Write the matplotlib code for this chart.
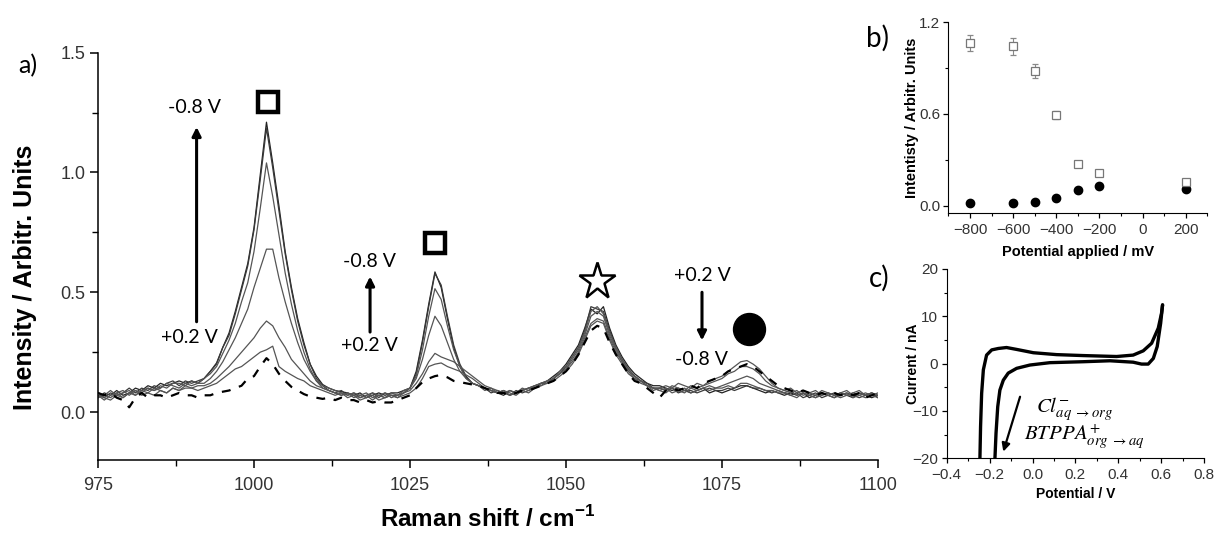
import matplotlib
matplotlib.use('Agg')
import matplotlib.pyplot as plt
from matplotlib.ticker import MultipleLocator
import numpy as np

plt.rcParams['font.family'] = ['Liberation Sans', 'DejaVu Sans']
plt.rcParams['mathtext.fontset'] = 'custom'
plt.rcParams['mathtext.rm'] = 'Liberation Sans'
plt.rcParams['mathtext.bf'] = 'Liberation Sans:bold'

# raman shift axis, 1 cm-1 step
shift = np.arange(975, 1101, 1)

# spectra from -0.8 V to +0.2 V
spec_m08 = [0.06, 0.08, 0.07, 0.09, 0.07, 0.08, 0.10, 0.09, 0.11, 0.10,
            0.12, 0.11, 0.12, 0.13, 0.12, 0.13, 0.12, 0.14, 0.17, 0.205,
            0.27, 0.33, 0.42, 0.52, 0.62, 0.77, 0.99, 1.21, 1.04, 0.86,
            0.67, 0.52, 0.39, 0.29, 0.20, 0.15, 0.115, 0.10, 0.09, 0.085,
            0.08, 0.07, 0.08, 0.06, 0.07, 0.08, 0.07, 0.08, 0.08, 0.09,
            0.10, 0.17, 0.30, 0.45, 0.585, 0.52, 0.39, 0.27, 0.19, 0.145,
            0.12, 0.11, 0.10, 0.09, 0.08, 0.07, 0.09, 0.08, 0.09, 0.10,
            0.11, 0.12, 0.13, 0.15, 0.17, 0.20, 0.24, 0.28, 0.35, 0.43,
            0.41, 0.44, 0.35, 0.28, 0.23, 0.19, 0.16, 0.14, 0.12, 0.11,
            0.11, 0.10, 0.09, 0.10, 0.09, 0.08, 0.09, 0.10, 0.08, 0.09,
            0.08, 0.09, 0.10, 0.11, 0.11, 0.10, 0.09, 0.08, 0.09, 0.08,
            0.07, 0.08, 0.07, 0.08, 0.06, 0.07, 0.08, 0.07, 0.06, 0.08,
            0.07, 0.06, 0.08, 0.07, 0.06, 0.07]
spec_m06 = [0.07, 0.06, 0.08, 0.07, 0.08, 0.10, 0.08, 0.10, 0.09, 0.11,
            0.10, 0.12, 0.13, 0.11, 0.13, 0.12, 0.13, 0.14, 0.17, 0.20,
            0.27, 0.32, 0.41, 0.51, 0.61, 0.76, 0.97, 1.185, 1.02, 0.84,
            0.66, 0.51, 0.38, 0.28, 0.20, 0.14, 0.11, 0.09, 0.08, 0.09,
            0.07, 0.08, 0.06, 0.07, 0.08, 0.06, 0.08, 0.07, 0.07, 0.08,
            0.10, 0.16, 0.29, 0.44, 0.578, 0.53, 0.40, 0.28, 0.20, 0.15,
            0.12, 0.11, 0.10, 0.08, 0.09, 0.08, 0.07, 0.09, 0.08, 0.09,
            0.10, 0.12, 0.12, 0.14, 0.16, 0.19, 0.23, 0.27, 0.34, 0.44,
            0.43, 0.42, 0.34, 0.27, 0.22, 0.18, 0.15, 0.13, 0.12, 0.10,
            0.10, 0.09, 0.10, 0.08, 0.09, 0.09, 0.08, 0.09, 0.10, 0.09,
            0.09, 0.10, 0.09, 0.10, 0.11, 0.10, 0.10, 0.09, 0.08, 0.09,
            0.08, 0.07, 0.08, 0.06, 0.07, 0.08, 0.06, 0.07, 0.08, 0.07,
            0.08, 0.07, 0.06, 0.07, 0.08, 0.06]
spec_m05 = [0.08, 0.07, 0.06, 0.08, 0.09, 0.07, 0.09, 0.08, 0.10, 0.09,
            0.11, 0.10, 0.12, 0.12, 0.11, 0.13, 0.12, 0.14, 0.16, 0.19,
            0.245, 0.30, 0.37, 0.46, 0.54, 0.67, 0.85, 1.04, 0.90, 0.74,
            0.58, 0.45, 0.34, 0.25, 0.18, 0.13, 0.10, 0.09, 0.08, 0.07,
            0.08, 0.06, 0.07, 0.08, 0.06, 0.07, 0.06, 0.08, 0.07, 0.09,
            0.10, 0.15, 0.26, 0.40, 0.515, 0.47, 0.36, 0.26, 0.19, 0.14,
            0.12, 0.11, 0.09, 0.10, 0.08, 0.09, 0.08, 0.07, 0.09, 0.10,
            0.11, 0.11, 0.13, 0.14, 0.17, 0.19, 0.23, 0.27, 0.33, 0.42,
            0.44, 0.41, 0.33, 0.27, 0.22, 0.18, 0.15, 0.13, 0.11, 0.10,
            0.09, 0.10, 0.08, 0.09, 0.10, 0.08, 0.09, 0.10, 0.09, 0.10,
            0.10, 0.11, 0.10, 0.12, 0.12, 0.11, 0.10, 0.09, 0.09, 0.08,
            0.08, 0.07, 0.06, 0.08, 0.07, 0.06, 0.07, 0.08, 0.07, 0.06,
            0.07, 0.08, 0.07, 0.06, 0.07, 0.08]
spec_m04 = [0.06, 0.07, 0.09, 0.07, 0.08, 0.09, 0.07, 0.09, 0.10, 0.09,
            0.10, 0.12, 0.11, 0.10, 0.12, 0.11, 0.12, 0.12, 0.14, 0.17,
            0.21, 0.26, 0.31, 0.37, 0.43, 0.52, 0.60, 0.68, 0.68, 0.56,
            0.46, 0.37, 0.29, 0.22, 0.17, 0.13, 0.11, 0.10, 0.09, 0.08,
            0.07, 0.08, 0.07, 0.06, 0.08, 0.07, 0.08, 0.06, 0.07, 0.08,
            0.10, 0.14, 0.22, 0.32, 0.40, 0.36, 0.29, 0.22, 0.17, 0.14,
            0.12, 0.11, 0.10, 0.09, 0.08, 0.09, 0.07, 0.08, 0.09, 0.10,
            0.10, 0.12, 0.13, 0.14, 0.16, 0.18, 0.22, 0.26, 0.32, 0.40,
            0.42, 0.40, 0.32, 0.26, 0.21, 0.17, 0.15, 0.13, 0.11, 0.10,
            0.09, 0.08, 0.10, 0.09, 0.08, 0.10, 0.09, 0.10, 0.11, 0.10,
            0.11, 0.12, 0.13, 0.14, 0.15, 0.14, 0.12, 0.11, 0.10, 0.09,
            0.08, 0.09, 0.07, 0.08, 0.07, 0.06, 0.08, 0.07, 0.06, 0.07,
            0.08, 0.06, 0.07, 0.08, 0.07, 0.06]
spec_m03 = [0.07, 0.05, 0.07, 0.08, 0.06, 0.08, 0.09, 0.07, 0.08, 0.10,
            0.09, 0.08, 0.10, 0.09, 0.11, 0.10, 0.11, 0.11, 0.12, 0.14,
            0.165, 0.19, 0.22, 0.25, 0.28, 0.31, 0.35, 0.38, 0.36, 0.31,
            0.27, 0.22, 0.19, 0.16, 0.13, 0.11, 0.10, 0.09, 0.08, 0.07,
            0.08, 0.07, 0.06, 0.07, 0.05, 0.07, 0.06, 0.07, 0.06, 0.08,
            0.09, 0.12, 0.16, 0.21, 0.245, 0.23, 0.22, 0.21, 0.19, 0.17,
            0.15, 0.13, 0.11, 0.10, 0.09, 0.08, 0.09, 0.08, 0.10, 0.09,
            0.11, 0.12, 0.12, 0.14, 0.16, 0.18, 0.21, 0.25, 0.31, 0.37,
            0.39, 0.38, 0.31, 0.25, 0.21, 0.17, 0.14, 0.13, 0.11, 0.10,
            0.10, 0.09, 0.11, 0.10, 0.09, 0.11, 0.10, 0.11, 0.12, 0.13,
            0.14, 0.16, 0.17, 0.19, 0.19, 0.18, 0.16, 0.13, 0.11, 0.10,
            0.09, 0.08, 0.09, 0.07, 0.08, 0.09, 0.07, 0.08, 0.07, 0.08,
            0.07, 0.08, 0.09, 0.07, 0.08, 0.07]
spec_m02 = [0.08, 0.06, 0.05, 0.07, 0.06, 0.08, 0.07, 0.09, 0.08, 0.07,
            0.09, 0.08, 0.10, 0.09, 0.10, 0.10, 0.09, 0.10, 0.11, 0.12,
            0.14, 0.16, 0.18, 0.19, 0.21, 0.23, 0.25, 0.26, 0.275, 0.19,
            0.17, 0.155, 0.14, 0.13, 0.11, 0.10, 0.09, 0.08, 0.07, 0.08,
            0.06, 0.07, 0.05, 0.06, 0.07, 0.05, 0.06, 0.07, 0.06, 0.07,
            0.08, 0.10, 0.14, 0.19, 0.20, 0.205, 0.19, 0.18, 0.17, 0.155,
            0.14, 0.12, 0.10, 0.09, 0.08, 0.09, 0.07, 0.08, 0.09, 0.08,
            0.10, 0.11, 0.12, 0.13, 0.15, 0.17, 0.20, 0.24, 0.30, 0.36,
            0.38, 0.37, 0.30, 0.24, 0.20, 0.16, 0.14, 0.12, 0.11, 0.09,
            0.10, 0.11, 0.10, 0.12, 0.11, 0.10, 0.12, 0.11, 0.13, 0.14,
            0.15, 0.17, 0.19, 0.21, 0.215, 0.20, 0.18, 0.15, 0.12, 0.10,
            0.09, 0.10, 0.08, 0.09, 0.08, 0.07, 0.09, 0.08, 0.07, 0.08,
            0.09, 0.07, 0.08, 0.07, 0.08, 0.07]
spec_p02 = [0.08, 0.07, 0.08, 0.06, 0.05, 0.02, 0.06, 0.08, 0.06, 0.07,
            0.07, 0.06, 0.07, 0.08, 0.07, 0.07, 0.06, 0.07, 0.07, 0.08,
            0.085, 0.09, 0.10, 0.11, 0.14, 0.15, 0.19, 0.225, 0.20, 0.16,
            0.13, 0.105, 0.09, 0.075, 0.065, 0.06, 0.055, 0.06, 0.05, 0.06,
            0.05, 0.05, 0.04, 0.05, 0.04, 0.045, 0.04, 0.04, 0.05, 0.06,
            0.07, 0.10, 0.125, 0.14, 0.15, 0.155, 0.145, 0.13, 0.125, 0.12,
            0.115, 0.11, 0.10, 0.09, 0.08, 0.08, 0.07, 0.08, 0.09, 0.09,
            0.10, 0.11, 0.12, 0.13, 0.15, 0.17, 0.20, 0.24, 0.29, 0.34,
            0.36, 0.35, 0.29, 0.24, 0.20, 0.16, 0.13, 0.12, 0.10, 0.08,
            0.06, 0.09, 0.10, 0.09, 0.10, 0.11, 0.10, 0.12, 0.13, 0.14,
            0.15, 0.17, 0.18, 0.19, 0.20, 0.19, 0.17, 0.15, 0.13, 0.11,
            0.10, 0.09, 0.08, 0.09, 0.08, 0.07, 0.08, 0.07, 0.08, 0.07,
            0.08, 0.07, 0.08, 0.06, 0.07, 0.08]

# panel b: band intensities vs potential
potential_mv = [-800, -600, -500, -400, -300, -200, 200]
band_1002 = [1.067, 1.043, 0.88, 0.593, 0.27, 0.215, 0.158]
band_1002_err = [0.053, 0.054, 0.047, 0.024, 0.010, 0.015, 0.010]
band_1080 = [0.017, 0.015, 0.022, 0.052, 0.104, 0.128, 0.106]

# panel c: cyclic voltammogram
cv_fwd_v = [-0.245, -0.242, -0.237, -0.229, -0.214, -0.190, -0.159, -0.121, -0.074,
            0.004, 0.112, 0.236, 0.392, 0.469, 0.516, 0.555, 0.586, 0.601, 0.606]
cv_fwd_i = [-20, -13.3, -6.3, -1.3, 1.8, 2.9, 3.2, 3.4, 3.0,
            2.3, 1.9, 1.7, 1.5, 1.8, 2.7, 4.3, 7.5, 10.6, 12.4]
cv_rev_v = [0.606, 0.597, 0.581, 0.563, 0.539, 0.508, 0.469, 0.361, 0.236, 0.081,
            -0.012, -0.074, -0.113, -0.136, -0.152, -0.162, -0.170, -0.175]
cv_rev_i = [12.4, 8.5, 3.6, 1.1, -0.1, -0.1, 0.3, 0.6, 0.4, 0.2,
            -0.3, -1.0, -2.0, -3.5, -5.6, -9.1, -14.7, -20]

fig = plt.figure(figsize=(12.16, 5.33), dpi=100)

tick_col = '#333333'
ann_font = ['Lato', 'DejaVu Sans']

# ---- a) spectra
ax = fig.add_axes([0.0806, 0.1370, 0.6414, 0.7641])
solid = [spec_m08, spec_m06, spec_m05, spec_m04, spec_m03, spec_m02]
cols = ['#222222', '#3a3a3a', '#555555', '#555555', '#555555', '#555555']
for s, c in zip(solid, cols):
    ax.plot(shift, s, color=c, lw=0.9)
ax.plot(shift, spec_p02, color='black', lw=1.6, ls=(0, (4, 4)))

ax.set_xlim(975, 1100)
ax.set_ylim(-0.2, 1.5)
ax.spines['top'].set_visible(False)
ax.spines['right'].set_visible(False)
for sp in ['left', 'bottom']:
    ax.spines[sp].set_linewidth(1.1)
ax.xaxis.set_major_locator(MultipleLocator(25))
ax.xaxis.set_minor_locator(MultipleLocator(12.5))
ax.yaxis.set_major_locator(MultipleLocator(0.5))
ax.yaxis.set_minor_locator(MultipleLocator(0.25))
ax.tick_params(which='major', length=6, width=1.1, labelsize=13, labelcolor=tick_col)
ax.tick_params(axis='x', which='major', pad=6)
ax.tick_params(axis='y', which='major', pad=3)
ax.tick_params(which='minor', length=4, width=1.0)
ax.set_xlabel('Raman shift / cm$^{\\mathbf{-1}}$', fontsize=17.5, fontweight='bold')
ax.set_ylabel('Intensity / Arbitr. Units', fontsize=18, fontweight='bold')
ax.xaxis.set_label_coords(0.5, -0.145)
ax.xaxis.label.set_va('center')
ax.yaxis.set_label_coords(-0.0936, 0.448)
ax.yaxis.label.set_va('center')

arrow_kw = dict(arrowstyle='-|>', lw=2.2, color='black', mutation_scale=13, shrinkA=0, shrinkB=0)
ax.annotate('', xy=(990.8, 1.19), xytext=(990.8, 0.377), arrowprops=arrow_kw)
ax.annotate('', xy=(1018.6, 0.566), xytext=(1018.6, 0.334), arrowprops=arrow_kw)
ax.annotate('', xy=(1071.8, 0.299), xytext=(1071.8, 0.50), arrowprops=arrow_kw)

ann = [(990.5, 1.272, '-0.8 V'), (989.7, 0.313, '+0.2 V'),
       (1018.5, 0.629, '-0.8 V'), (1018.5, 0.278, '+0.2 V'),
       (1071.8, 0.572, '+0.2 V'), (1071.8, 0.221, '-0.8 V')]
for x, y, t in ann:
    ax.text(x, y, t, ha='center', va='center', fontsize=14, family=ann_font)

ax.plot([1002.3, 1029.0], [1.296, 0.704], ls='none', marker='s', ms=15,
        mfc='white', mec='black', mew=3.2)
ax.plot([1054.9], [0.548], ls='none', marker='*', ms=28, mfc='white', mec='black', mew=1.8)
ax.plot([1079.4], [0.345], ls='none', marker='o', ms=23, color='black')

fig.text(28 / 1216, 1 - 66 / 533, 'a)', fontsize=18, family=ann_font, ha='center', va='center')

# ---- b) band intensity
axb = fig.add_axes([0.7799, 0.5998, 0.2130, 0.3584])
axb.errorbar(potential_mv, band_1002, yerr=band_1002_err, fmt='s', ms=5.5,
             mfc='white', mec='#777777', mew=0.9, ecolor='#888888', elinewidth=0.8,
             capsize=2, capthick=0.8)
axb.plot(potential_mv, band_1080, ls='none', marker='o', ms=6, color='black')
axb.set_xlim(-900, 300)
axb.set_ylim(-0.05, 1.2)
axb.set_xticks([-800, -600, -400, -200, 0, 200])
axb.xaxis.set_minor_locator(MultipleLocator(100))
axb.set_yticks([0.0, 0.6, 1.2])
axb.yaxis.set_minor_locator(MultipleLocator(0.3))
axb.spines['top'].set_visible(False)
axb.spines['right'].set_visible(False)
axb.tick_params(which='major', length=3.5, width=0.9, labelsize=11, labelcolor=tick_col)
axb.tick_params(axis='y', which='major', pad=2.5)
axb.tick_params(which='minor', length=2, width=0.8)
axb.set_xlabel('Potential applied / mV', fontsize=10.5, fontweight='bold')
axb.set_ylabel('Intentisty / Arbitr. Units', fontsize=10.5, fontweight='bold')
axb.xaxis.set_label_coords(0.5, -0.205)
axb.xaxis.label.set_va('center')
axb.yaxis.set_label_coords(-0.14, 0.5)
axb.yaxis.label.set_va('center')
fig.text(877 / 1216, 1 - 38 / 533, 'b)', fontsize=20, family=ann_font, ha='center', va='center')

# ---- c) CV
axc = fig.add_axes([0.7785, 0.1402, 0.2118, 0.3552])
axc.plot(cv_fwd_v, cv_fwd_i, color='black', lw=2.4, solid_capstyle='round')
axc.plot(cv_rev_v, cv_rev_i, color='black', lw=2.4, solid_capstyle='round')
axc.set_xlim(-0.4, 0.8)
axc.set_ylim(-20, 20)
axc.xaxis.set_major_locator(MultipleLocator(0.2))
axc.xaxis.set_minor_locator(MultipleLocator(0.1))
axc.yaxis.set_major_locator(MultipleLocator(10))
axc.yaxis.set_minor_locator(MultipleLocator(5))
axc.spines['top'].set_visible(False)
axc.spines['right'].set_visible(False)
axc.tick_params(which='major', length=3.5, width=0.9, labelsize=11, labelcolor=tick_col)
axc.tick_params(axis='y', which='major', pad=2.5)
axc.tick_params(which='minor', length=2, width=0.8)
axc.set_xlabel('Potential / V', fontsize=10, fontweight='bold')
axc.set_ylabel('Current / nA', fontsize=10, fontweight='bold')
axc.xaxis.set_label_coords(0.5, -0.19)
axc.xaxis.label.set_va('center')
axc.yaxis.set_label_coords(-0.13, 0.5)
axc.yaxis.label.set_va('center')
axc.annotate('', xy=(-0.136, -18.6), xytext=(-0.058, -7.0),
             arrowprops=dict(arrowstyle='-|>', lw=1.6, color='black', mutation_scale=12,
                             shrinkA=0, shrinkB=0))
axc.text(0.198, -9.6, r'$Cl^{-}_{aq\ \rightarrow org}$', fontsize=15, ha='center', va='center',
         math_fontfamily='stix')
axc.text(0.244, -15.4, r'$BTPPA^{+}_{org\ \rightarrow aq}$', fontsize=15, ha='center', va='center',
         math_fontfamily='stix')
fig.text(879 / 1216, 1 - 278 / 533, 'c)', fontsize=20, family=ann_font, ha='center', va='center')

fig.savefig('out.png', dpi=100)
